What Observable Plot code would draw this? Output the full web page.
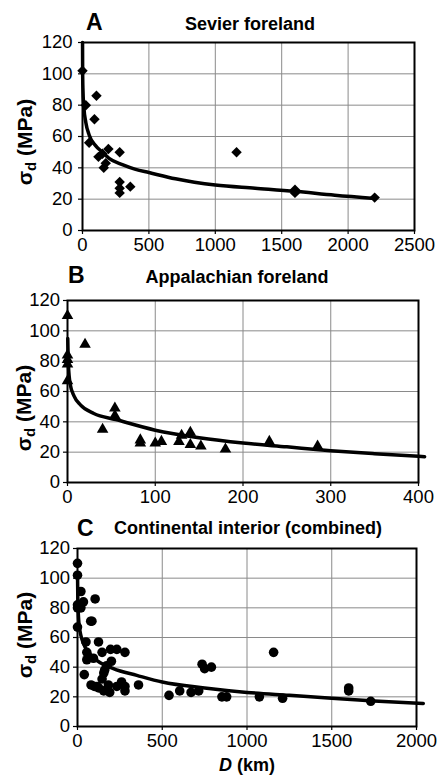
<!DOCTYPE html>
<html><head><meta charset="utf-8">
<script src="https://cdn.jsdelivr.net/npm/d3@7"></script>
<script src="https://cdn.jsdelivr.net/npm/@observablehq/plot@0.6"></script>
<style>
body{margin:0;background:#fff;}
#fig{position:relative;width:439px;height:776px;overflow:hidden;font-family:"Liberation Sans",Arial,sans-serif;}
.panel{position:absolute;left:0;}
#overlay{position:absolute;left:0;top:0;pointer-events:none;}
#overlay text{font-family:"Liberation Sans",Arial,sans-serif;font-weight:bold;fill:#000;}
</style></head>
<body>
<div id="fig">
  <div class="panel" id="pA" style="top:0px"></div>
  <div class="panel" id="pB" style="top:260px"></div>
  <div class="panel" id="pC" style="top:510px"></div>
  <svg id="overlay" width="439" height="776">
    <text x="86" y="30" font-size="23">A</text>
    <text x="250" y="30" font-size="18" text-anchor="middle">Sevier foreland</text>
    <text x="68" y="283" font-size="23">B</text>
    <text x="237" y="283" font-size="18" text-anchor="middle">Appalachian foreland</text>
    <text x="77" y="536" font-size="23">C</text>
    <text x="248" y="534" font-size="18" text-anchor="middle">Continental interior (combined)</text>
    <text x="247" y="771" font-size="18" text-anchor="middle"><tspan font-style="italic">D</tspan> (km)</text>
    <text transform="translate(32,142) rotate(-90)" font-size="21" text-anchor="middle">σ<tspan dy="4" font-size="15">d</tspan><tspan dy="-4"> (MPa)</tspan></text>
    <text transform="translate(31,408) rotate(-90)" font-size="21" text-anchor="middle">σ<tspan dy="4" font-size="15">d</tspan><tspan dy="-4"> (MPa)</tspan></text>
    <text transform="translate(32,635) rotate(-90)" font-size="21" text-anchor="middle">σ<tspan dy="4" font-size="15">d</tspan><tspan dy="-4"> (MPa)</tspan></text>
  </svg>
</div>
<script>
// ---- Panel A: Sevier foreland (diamonds) ----
const sevierD = [0, 25, 105, 90, 50, 120, 150, 160, 175, 195, 280, 280, 280, 280, 360, 1160, 1600, 1600, 2200];
const sevierS = [102, 80, 86, 71, 56, 47, 49, 40, 43, 52, 50, 31, 27, 24, 28, 50, 26, 24, 21];
const sevierFitD = [0.3, 1, 3, 10, 25, 50, 100, 150, 200, 300, 400, 500, 700, 1000, 1300, 1600, 1900, 2200];
const sevierFitS = [120, 103, 91, 79, 69, 61, 54, 50, 46, 42, 39, 37, 33, 29, 27, 25, 22.5, 20.5];
const sevierTicks = [0, 500, 1000, 1500, 2000, 2500];

// ---- Panel B: Appalachian foreland (triangles) ----
const appD = [0, 0, 0, 0, 0, 20, 40, 54, 54, 83, 83, 100, 107, 127, 130, 140, 140, 152, 180, 230, 285];
const appS = [110, 84, 81, 78, 67, 91, 35, 49, 44, 28, 26, 26, 27, 27, 31, 33, 25, 24, 22, 27, 24];
const appFitD = [0.3, 1, 3, 7.5, 15, 30, 55, 100, 150, 200, 250, 300, 350, 407];
const appFitS = [95, 78, 65, 57, 51, 45.5, 41.5, 34.5, 29.5, 26, 23.5, 21, 19, 17];
const appTicks = [0, 100, 200, 300, 400];

// ---- Panel C: Continental interior, combined (circles) ----
const contD = [0, 0, 20, 0, 0, 20, 35, 104, 78, 85, 0, 50, 124, 55, 55, 40, 94, 145, 195, 232, 280, 200, 172, 155, 160,
               80, 100, 115, 125, 145, 182, 155, 190, 232, 260, 280, 280, 360, 540, 603, 670, 715, 735, 750, 790,
               852, 880, 1073, 1157, 1210, 1600, 1600, 1730];
const contS = [110, 102, 91, 82, 80, 80, 84, 86, 71, 71, 67, 57, 57, 50, 45, 35, 46, 50, 52, 52, 50, 44, 41, 36, 38,
               28, 27, 27, 26, 32, 28, 24, 23, 27, 30, 24, 27, 28, 21, 24, 23, 24, 42, 39, 40,
               20, 20, 20, 50, 19, 26, 24, 17];
const contFitD = [0.5, 2, 10, 35, 100, 212, 350, 500, 750, 1000, 1250, 1500, 1750, 2040];
const contFitS = [100, 85, 68, 56, 46, 39, 34.5, 30, 26, 23, 21, 19, 17.2, 15.5];
const contTicks = [0, 500, 1000, 1500, 2000];

const yTicks = [0, 20, 40, 60, 80, 100, 120];
const FONT = "Liberation Sans, Arial, sans-serif";
const fmt = d => String(d);

function zip(xs, ys) { return xs.map((x, i) => ({x, y: ys[i]})); }

function panel(o) {
  return Plot.plot({
    width: 439, height: o.height,
    marginLeft: o.ml, marginRight: o.mr, marginTop: o.mt, marginBottom: o.mb,
    style: {fontFamily: FONT, fontSize: "18px", background: "white", overflow: "visible"},
    x: {domain: o.xDomain, label: null},
    y: {domain: [0, 120], label: null},
    marks: [
      Plot.gridX(o.xTicks, {stroke: "#8a8a8a", strokeOpacity: 1, strokeWidth: 1}),
      Plot.gridY(yTicks, {stroke: "#8a8a8a", strokeOpacity: 1, strokeWidth: 1}),
      Plot.axisX(o.xTicks, {tickSize: 4, tickPadding: 3, fontSize: 18.5, label: null, strokeWidth: 1.2, tickFormat: fmt}),
      Plot.axisY(yTicks, {tickSize: 4, tickPadding: o.ypad, fontSize: 18.5, label: null, strokeWidth: 1.2, tickFormat: fmt}),
      Plot.frame({stroke: "black", strokeWidth: 2}),
      Plot.line(zip(o.fitD, o.fitS), {x: "x", y: "y", stroke: "black", strokeWidth: 3.5, curve: "monotone-x"}),
      Plot.dot(zip(o.d, o.s), {x: "x", y: "y", symbol: o.symbol, r: o.r, fill: "black", stroke: "none"})
    ]
  });
}

document.getElementById("pA").append(panel({
  height: 260, ml: 82, mr: 25, mt: 42, mb: 30, ypad: 6,
  xDomain: [0, 2500], xTicks: sevierTicks,
  d: sevierD, s: sevierS, fitD: sevierFitD, fitS: sevierFitS, symbol: "diamond2", r: 4.7
}));
document.getElementById("pB").append(panel({
  height: 250, ml: 67, mr: 21, mt: 40, mb: 28, ypad: 3.5,
  xDomain: [0, 400], xTicks: appTicks,
  d: appD, s: appS, fitD: appFitD, fitS: appFitS, symbol: "triangle", r: 4.3
}));
document.getElementById("pC").append(panel({
  height: 266, ml: 77, mr: 23, mt: 38, mb: 50, ypad: 3.5,
  xDomain: [0, 2000], xTicks: contTicks,
  d: contD, s: contS, fitD: contFitD, fitS: contFitS, symbol: "circle", r: 4.8
}));
</script>
</body></html>
